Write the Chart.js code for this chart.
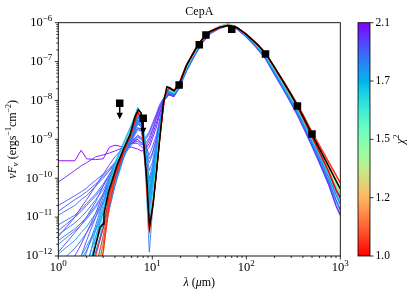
<!DOCTYPE html>
<html>
<head>
<meta charset="utf-8">
<script src="https://cdn.jsdelivr.net/npm/chart.js@4.4.1/dist/chart.umd.min.js"></script>
<style>
  html, body { margin: 0; padding: 0; background: #fff; }
  canvas { display: block; }
</style>
</head>
<body>
<canvas id="sed" width="415" height="298"></canvas>
<script>
/* ---------- DATA ---------- */
// observed points (micron, erg/s/cm2)
const obsWave = [4.5, 8.0, 19.3, 31.6, 37.2, 70, 160, 350, 500];
const obsFlux = [8.5e-9, 3.5e-9, 2.5e-8, 2.7e-7, 4.85e-7, 6.8e-7, 1.57e-7, 7.2e-9, 1.38e-9];
const obsUpper = [true, true, false, false, false, false, false, false, false];

// best fit model (log10 nuFnu)
const bestWave = [2.2, 2.36, 2.78, 2.99, 3.06, 3.4, 4.18, 4.91, 5.79, 6.54, 7.1, 7.6, 8.0, 8.74, 9.22, 9.35,
  10.25, 11.14, 12.06, 13.1, 14.3, 15.5, 17, 19.3, 23.2, 28.5, 33.6, 41, 52, 64, 80, 100, 130, 161, 200,
  250, 300, 350, 420, 500, 600, 750, 900, 1000];
const bestLogF = [-12.4, -11.96, -11.26, -11.18, -10.93, -10.37, -9.69, -9.26, -8.88, -8.42, -8.24, -8.32, -8.92,
  -10.03, -11.03, -11.24, -10.63, -9.78, -8.92, -8.07, -7.65, -7.68, -7.75, -7.6, -7.09, -6.70, -6.44, -6.23,
  -6.12, -6.07, -6.13, -6.30, -6.55, -6.79, -7.15, -7.53, -7.85, -8.13, -8.5, -8.87, -9.24, -9.69, -10.06, -10.27];

// other models, short wavelength part
const swWave = [1, 1.5, 1.75, 2, 2.5, 3, 3.5, 4, 5, 6, 7, 7.7, 8.5, 9.3, 10, 11, 12, 13.5, 15, 17, 20];
const swChi2 = [2.1, 2.05, 2.0, 1.98, 1.97, 1.95, 1.94, 1.93, 1.92, 1.91, 1.9, 1.89, 1.88, 1.87, 1.86, 1.85,
  1.84, 1.83, 1.82, 1.81, 1.8, 1.79, 1.78, 1.76,
  1.72, 1.68, 1.62, 1.5, 1.35, 1.25, 1.15, 1.08, 1.05, 1.02, 1.0];
const swLogF = [
  [-9.55,-9.55,-9.28,-9.5,-9.52,-9.5,-9.2,-9.15,-9.2,-9.2,-9.25,-9.3,-9.25,-9.1,-8.9,-8.6,-8.3,-7.95,-7.85,-7.9,-7.6],
  [-10.1,-9.8,-9.68,-9.6,-9.45,-9.4,-9.35,-9.3,-9.2,-9.1,-9.1,-9.2,-9.3,-9.2,-9.0,-8.7,-8.35,-7.95,-7.85,-7.9,-7.6],
  [-11.5,-11.0,-10.75,-10.55,-10.2,-9.9,-9.65,-9.45,-9.2,-9.05,-9.0,-9.1,-9.2,-9.0,-8.8,-8.5,-8.2,-7.92,-7.85,-7.9,-7.6],
  [-12.6,-12.0,-11.7,-11.4,-10.9,-10.4,-10.0,-9.7,-9.3,-9.1,-9.05,-9.15,-9.0,-8.85,-8.65,-8.4,-8.15,-7.9,-7.82,-7.88,-7.6],
  [-11.9,-11.4,-11.2,-11.0,-10.6,-10.2,-9.9,-9.65,-9.3,-9.1,-9.0,-9.1,-9.1,-8.95,-8.75,-8.45,-8.2,-7.92,-7.84,-7.89,-7.6],
  [-14,-13,-12.6,-12.2,-11.5,-10.9,-10.4,-10.0,-9.4,-9.05,-8.9,-9.0,-8.95,-8.8,-8.6,-8.35,-8.1,-7.9,-7.82,-7.88,-7.6],
  [-10.85,-10.55,-10.45,-10.35,-10.15,-9.95,-9.8,-9.65,-9.4,-9.15,-8.95,-9.0,-9.2,-9.4,-9.2,-8.9,-8.5,-7.98,-7.85,-7.88,-7.6],
  [-14,-12.5,-12.0,-11.6,-11.0,-10.5,-10.1,-9.8,-9.35,-9.0,-8.7,-8.75,-9.1,-9.5,-9.35,-9.0,-8.5,-7.95,-7.82,-7.87,-7.58],
  [-10.7,-10.45,-10.35,-10.25,-10.05,-9.9,-9.75,-9.6,-9.35,-9.1,-8.9,-8.95,-9.3,-9.6,-9.4,-9.0,-8.6,-8.0,-7.85,-7.88,-7.6],
  [-11.35,-11.0,-10.85,-10.7,-10.45,-10.2,-9.95,-9.75,-9.4,-9.05,-8.75,-8.8,-9.4,-10.0,-9.7,-9.2,-8.6,-7.95,-7.8,-7.86,-7.58],
  [-14,-12.8,-12.3,-11.9,-11.2,-10.6,-10.15,-9.8,-9.3,-8.9,-8.6,-8.7,-9.2,-9.8,-9.6,-9.1,-8.55,-7.95,-7.8,-7.86,-7.58],
  [-10.95,-10.7,-10.55,-10.45,-10.2,-10.0,-9.8,-9.6,-9.3,-9.0,-8.7,-8.8,-9.5,-10.1,-9.8,-9.2,-8.6,-7.95,-7.8,-7.85,-7.58],
  [-11.6,-11.3,-11.15,-11.0,-10.7,-10.4,-10.1,-9.85,-9.4,-9.0,-8.6,-8.7,-9.6,-10.6,-10.1,-9.4,-8.7,-7.95,-7.78,-7.84,-7.57],
  [-11.2,-10.95,-10.8,-10.65,-10.4,-10.15,-9.9,-9.7,-9.3,-8.95,-8.55,-8.7,-9.7,-10.8,-10.2,-9.4,-8.7,-7.95,-7.78,-7.84,-7.57],
  [-12.2,-11.8,-11.6,-11.4,-11.0,-10.65,-10.3,-10.0,-9.45,-9.0,-8.55,-8.65,-9.5,-10.4,-10.0,-9.35,-8.7,-7.93,-7.76,-7.82,-7.56],
  [-11.45,-11.15,-11.0,-10.85,-10.55,-10.3,-10.0,-9.75,-9.35,-8.95,-8.5,-8.65,-9.9,-11.9,-10.9,-9.7,-8.85,-7.95,-7.76,-7.82,-7.56],
  [-12.8,-12.4,-12.1,-11.85,-11.35,-10.9,-10.45,-10.05,-9.45,-8.95,-8.5,-8.6,-9.8,-11.5,-10.7,-9.6,-8.8,-7.93,-7.75,-7.82,-7.56],
  [-11.7,-11.35,-11.2,-11.05,-10.75,-10.45,-10.1,-9.8,-9.35,-8.9,-8.45,-8.6,-9.6,-11.0,-10.4,-9.5,-8.75,-7.93,-7.75,-7.82,-7.56],
  [-14,-14,-13.3,-12.8,-11.9,-11.2,-10.6,-10.1,-9.4,-8.85,-8.4,-8.55,-9.6,-11.3,-10.6,-9.6,-8.8,-7.95,-7.75,-7.82,-7.56],
  [-14,-13.6,-13.0,-12.6,-11.9,-11.3,-10.75,-10.2,-9.45,-8.9,-8.45,-8.55,-9.45,-10.7,-10.2,-9.45,-8.75,-7.92,-7.74,-7.8,-7.55],
  [-11.95,-11.6,-11.4,-11.25,-10.9,-10.6,-10.25,-9.9,-9.4,-8.9,-8.4,-8.55,-9.5,-10.5,-10.1,-9.35,-8.7,-7.92,-7.74,-7.8,-7.55],
  [-14,-14,-14,-13.4,-12.3,-11.5,-10.8,-10.2,-9.4,-8.85,-8.4,-8.5,-9.35,-10.4,-10.0,-9.35,-8.7,-7.9,-7.72,-7.8,-7.55],
  [-13,-12.3,-12.0,-11.75,-11.3,-10.8,-10.35,-9.95,-9.35,-8.85,-8.35,-8.5,-9.4,-10.3,-9.95,-9.3,-8.65,-7.9,-7.72,-7.8,-7.55],
  [-14,-13.2,-12.8,-12.4,-11.7,-11.1,-10.55,-10.05,-9.35,-8.8,-8.3,-8.45,-9.3,-10.1,-9.85,-9.25,-8.6,-7.9,-7.72,-7.8,-7.55],
  [-14,-14,-14,-12.4,-11.3,-10.7,-10.05,-9.6,-9.05,-8.62,-8.18,-8.35,-9.2,-10.2,-9.9,-9.3,-8.7,-7.9,-7.7,-7.78,-7.53],
  [-14,-14,-14,-12.8,-11.5,-10.85,-10.15,-9.65,-9.1,-8.66,-8.2,-8.4,-9.4,-10.6,-10.2,-9.45,-8.8,-7.9,-7.7,-7.78,-7.53],
  [-14,-14,-14,-13.2,-11.6,-10.95,-10.2,-9.72,-9.15,-8.7,-8.22,-8.45,-9.55,-10.9,-10.5,-9.65,-8.85,-7.9,-7.68,-7.76,-7.52],
  [-14,-14,-14,-14,-12.5,-11.6,-10.5,-9.9,-9.22,-8.75,-8.25,-8.48,-9.65,-11.4,-10.7,-9.8,-8.9,-7.9,-7.68,-7.76,-7.51],
  [-14,-14,-14,-14,-12.8,-11.9,-10.6,-9.95,-9.25,-8.78,-8.27,-8.5,-9.7,-11.5,-10.75,-9.85,-8.95,-7.9,-7.67,-7.76,-7.51],
  [-14,-14,-14,-14,-13,-12.0,-10.5,-9.92,-9.25,-8.8,-8.28,-8.5,-9.7,-11.3,-10.8,-9.9,-8.95,-7.9,-7.67,-7.75,-7.5],
  [-14,-14,-14,-14,-13,-11.9,-10.45,-9.9,-9.25,-8.8,-8.28,-8.5,-9.72,-11.3,-10.82,-9.92,-9.0,-7.9,-7.67,-7.75,-7.5],
  [-14,-14,-14,-13.5,-12.3,-11.5,-10.5,-9.95,-9.28,-8.82,-8.3,-8.52,-9.75,-11.35,-10.85,-9.95,-9.0,-7.92,-7.67,-7.75,-7.5],
  [-14,-14,-14,-14,-12.6,-11.7,-10.6,-10.0,-9.3,-8.84,-8.3,-8.52,-9.75,-11.4,-10.85,-9.95,-9.02,-7.92,-7.67,-7.75,-7.5],
  [-14,-14,-14,-14,-12.9,-11.9,-10.7,-10.05,-9.32,-8.85,-8.3,-8.52,-9.75,-11.3,-10.8,-9.92,-9.0,-7.92,-7.67,-7.75,-7.5],
  [-14,-14,-14,-13.2,-12.0,-11.3,-10.4,-9.9,-9.27,-8.8,-8.28,-8.5,-9.72,-11.25,-10.82,-9.92,-8.98,-7.9,-7.67,-7.75,-7.5]
];

// other models, long wavelength part
const lwWave = [15, 17, 19, 23, 28.5, 34, 41, 52, 64, 80, 100, 130, 161, 200, 250, 300, 350, 420, 500, 600, 750, 900, 1000];
const lwChi2 = [1.98, 1.88, 1.78, 1.68, 1.6, 1.45, 1.2, 1.05, 1.0];
const lwLogF = [
  [-7.83,-7.87,-7.71,-7.24,-6.82,-6.51,-6.28,-6.14,-6.07,-6.16,-6.36,-6.65,-6.93,-7.33,-7.73,-8.07,-8.37,-8.77,-9.17,-9.6,-10.15,-10.7,-10.95],
  [-7.80,-7.85,-7.69,-7.22,-6.80,-6.49,-6.27,-6.13,-6.06,-6.15,-6.35,-6.63,-6.91,-7.30,-7.70,-8.04,-8.33,-8.72,-9.12,-9.54,-10.07,-10.56,-10.82],
  [-7.78,-7.83,-7.67,-7.19,-6.77,-6.47,-6.25,-6.12,-6.05,-6.14,-6.33,-6.61,-6.88,-7.26,-7.66,-7.99,-8.28,-8.67,-9.06,-9.46,-9.97,-10.42,-10.67],
  [-7.75,-7.81,-7.65,-7.16,-6.75,-6.45,-6.23,-6.10,-6.04,-6.13,-6.32,-6.59,-6.85,-7.23,-7.62,-7.95,-8.23,-8.62,-9.00,-9.39,-9.87,-10.31,-10.55],
  [-7.72,-7.79,-7.63,-7.14,-6.73,-6.44,-6.22,-6.09,-6.03,-6.12,-6.31,-6.57,-6.82,-7.20,-7.59,-7.91,-8.20,-8.58,-8.96,-9.34,-9.81,-10.21,-10.47],
  [-7.7,-7.77,-7.62,-7.12,-6.72,-6.44,-6.22,-6.10,-6.05,-6.12,-6.30,-6.56,-6.80,-7.17,-7.55,-7.88,-8.16,-8.54,-8.92,-9.3,-9.76,-10.15,-10.38],
  [-7.69,-7.76,-7.61,-7.11,-6.71,-6.43,-6.23,-6.11,-6.06,-6.13,-6.30,-6.55,-6.79,-7.16,-7.54,-7.86,-8.14,-8.51,-8.88,-9.24,-9.68,-10.05,-10.3],
  [-7.68,-7.75,-7.61,-7.1,-6.70,-6.43,-6.23,-6.12,-6.07,-6.13,-6.30,-6.55,-6.79,-7.15,-7.52,-7.83,-8.1,-8.46,-8.82,-9.16,-9.58,-9.92,-10.12],
  [-7.68,-7.75,-7.61,-7.1,-6.70,-6.43,-6.23,-6.12,-6.07,-6.13,-6.30,-6.55,-6.80,-7.16,-7.55,-7.87,-8.16,-8.55,-8.93,-9.33,-9.82,-10.3,-10.5]
];

// colour bar
const cbarTicks = [1.0, 1.2, 1.5, 1.7, 2.1];
const cbarLabels = ["1.0", "1.2", "1.5", "1.7", "2.1"];

/* ---------- COLOURS ---------- */
// matplotlib "rainbow", t = 0 purple .. 1 red
function rainbow(t) {
  const r = Math.min(1, Math.abs(2 * t - 0.5));
  const g = Math.sin(Math.PI * t);
  const b = Math.cos(Math.PI * t / 2);
  return `rgb(${Math.round(r * 255)},${Math.round(g * 255)},${Math.round(b * 255)})`;
}
function chiFrac(c) {
  const n = cbarTicks.length - 1;
  for (let i = 0; i < n; i++) {
    if (c <= cbarTicks[i + 1]) return (i + (c - cbarTicks[i]) / (cbarTicks[i + 1] - cbarTicks[i])) / n;
  }
  return 1;
}
const chiColor = c => rainbow(1 - chiFrac(c));

/* ---------- DATASETS ---------- */
const toPts = (w, lf) => w.map((x, i) => ({ x, y: Math.pow(10, lf[i]) }));
const lineDs = (pts, color, width, order) => ({
  data: pts, showLine: true, pointRadius: 0, borderColor: color, borderWidth: width,
  tension: 0, order
});

const datasets = [];
datasets.push({
  data: obsWave.map((x, i) => ({ x, y: obsFlux[i] })),
  showLine: false, pointStyle: "rect", pointRadius: 5.3,
  backgroundColor: "#000", borderColor: "#000", borderWidth: 0, order: 0
});
datasets.push(lineDs(toPts(bestWave, bestLogF), "#000", 1.5, 1));
swLogF.forEach((lf, i) => datasets.push(lineDs(toPts(swWave, lf), chiColor(swChi2[i]), 0.9, 2 + swChi2[i] * 100)));
lwLogF.forEach((lf, i) => datasets.push(lineDs(toPts(lwWave, lf), chiColor(lwChi2[i]), 1.6, 2 + lwChi2[i] * 100)));

/* ---------- DECORATION ---------- */
const SERIF = '"Liberation Serif", "DejaVu Serif", serif';

function drawRuns(ctx, runs, x, y, align) {
  // runs: [text, size, dy, italic]
  let total = 0;
  runs.forEach(r => { ctx.font = `${r[3] ? "italic " : ""}${r[1]}px ${SERIF}`; r.w = ctx.measureText(r[0]).width; total += r.w; });
  let cx = align === "right" ? x - total : align === "center" ? x - total / 2 : x;
  ctx.textAlign = "left";
  ctx.textBaseline = "middle";
  runs.forEach(r => {
    ctx.font = `${r[3] ? "italic " : ""}${r[1]}px ${SERIF}`;
    ctx.fillText(r[0], cx, y + r[2]);
    cx += r.w;
  });
}

const decor = {
  id: "decor",
  afterDraw(chart) {
    const { ctx, chartArea: a, scales: { x, y } } = chart;
    ctx.save();
    ctx.fillStyle = "#000";
    ctx.strokeStyle = "#000";

    // upper-limit arrows
    ctx.lineWidth = 1.5;
    obsWave.forEach((w, i) => {
      if (!obsUpper[i]) return;
      const px = x.getPixelForValue(w), py = y.getPixelForValue(obsFlux[i]);
      ctx.beginPath();
      ctx.moveTo(px, py + 3);
      ctx.lineTo(px, py + 10);
      ctx.stroke();
      ctx.beginPath();
      ctx.moveTo(px - 3.2, py + 9.5);
      ctx.lineTo(px + 3.2, py + 9.5);
      ctx.lineTo(px, py + 16);
      ctx.closePath();
      ctx.fill();
    });

    // frame
    ctx.lineWidth = 0.9;
    ctx.strokeRect(a.left, a.top, a.right - a.left, a.bottom - a.top);

    // ticks
    ctx.lineWidth = 0.8;
    ctx.beginPath();
    for (let n = 0; n <= 3; n++) {
      for (let k = 1; k <= 9; k++) {
        const v = k * Math.pow(10, n);
        if (v > 1000) break;
        const px = x.getPixelForValue(v);
        ctx.moveTo(px, a.bottom);
        ctx.lineTo(px, a.bottom + (k === 1 ? 3.5 : 2));
      }
    }
    for (let n = -12; n <= -6; n++) {
      for (let k = 1; k <= 9; k++) {
        const v = k * Math.pow(10, n);
        if (v > 1.0001e-6) break;
        const py = y.getPixelForValue(v);
        ctx.moveTo(a.left, py);
        ctx.lineTo(a.left - (k === 1 ? 3.5 : 2), py);
      }
    }
    ctx.stroke();

    // tick labels
    for (let n = 0; n <= 3; n++) {
      drawRuns(ctx, [["10", 12.5, 0], [String(n), 9, -4]], x.getPixelForValue(Math.pow(10, n)), a.bottom + 12, "center");
    }
    for (let n = -12; n <= -6; n++) {
      drawRuns(ctx, [["10", 12.5, 0], ["\u2212" + (-n), 9, -4]], a.left - 6, y.getPixelForValue(Math.pow(10, n)), "right");
    }

    // title and axis labels
    drawRuns(ctx, [["CepA", 12, 0]], (a.left + a.right) / 2, 11.5, "center");
    drawRuns(ctx, [["\u03bb", 12, 0, true], [" (", 12, 0], ["\u03bc", 12, 0, true], ["m)", 12, 0]],
      (a.left + a.right) / 2, 283, "center");
    ctx.save();
    ctx.translate(13, (a.top + a.bottom) / 2);
    ctx.rotate(-Math.PI / 2);
    drawRuns(ctx, [["\u03bdF", 12, 0, true], ["\u03bd", 8.5, 3, true], [" (ergs", 12, 0], ["\u22121", 8, -4],
      ["cm", 12, 0], ["\u22122", 8, -4], [")", 12, 0]], 0, 0, "center");
    ctx.restore();

    // colour bar
    const cx0 = 358, cw = 12, ct = a.top, cb = a.bottom;
    const grad = ctx.createLinearGradient(0, cb, 0, ct);
    for (let s = 0; s <= 40; s++) grad.addColorStop(s / 40, rainbow(1 - s / 40));
    ctx.fillStyle = grad;
    ctx.fillRect(cx0, ct, cw, cb - ct);
    ctx.fillStyle = "#000";
    ctx.lineWidth = 0.8;
    ctx.strokeRect(cx0, ct, cw, cb - ct);
    ctx.beginPath();
    cbarTicks.forEach((t, i) => {
      const py = cb - (i / (cbarTicks.length - 1)) * (cb - ct);
      ctx.moveTo(cx0 + cw, py);
      ctx.lineTo(cx0 + cw + 3.5, py);
      drawRuns(ctx, [[cbarLabels[i], 11.5, 0]], cx0 + cw + 5.5, py, "left");
    });
    ctx.stroke();
    ctx.save();
    ctx.translate(401, (ct + cb) / 2);
    ctx.rotate(-Math.PI / 2);
    drawRuns(ctx, [["\u03c7", 12, 0, true], ["2", 8.5, -4]], 0, 0, "center");
    ctx.restore();

    ctx.restore();
  }
};

/* ---------- CHART ---------- */
const ctx = document.getElementById("sed").getContext("2d");
new Chart(ctx, {
  type: "scatter",
  data: { datasets },
  options: {
    responsive: false,
    animation: false,
    events: [],
    layout: { padding: { left: 0, right: 74.7, top: 22.7, bottom: 0 } },
    plugins: { legend: { display: false }, tooltip: { enabled: false } },
    scales: {
      x: {
        type: "logarithmic", min: 1, max: 1000,
        ticks: { display: false }, grid: { display: false }, border: { display: false },
        afterFit: s => { s.height = 42; }
      },
      y: {
        type: "logarithmic", min: 1e-12, max: 1e-6,
        ticks: { display: false }, grid: { display: false }, border: { display: false },
        afterFit: s => { s.width = 58.3; }
      }
    }
  },
  plugins: [decor]
});
</script>
</body>
</html>
